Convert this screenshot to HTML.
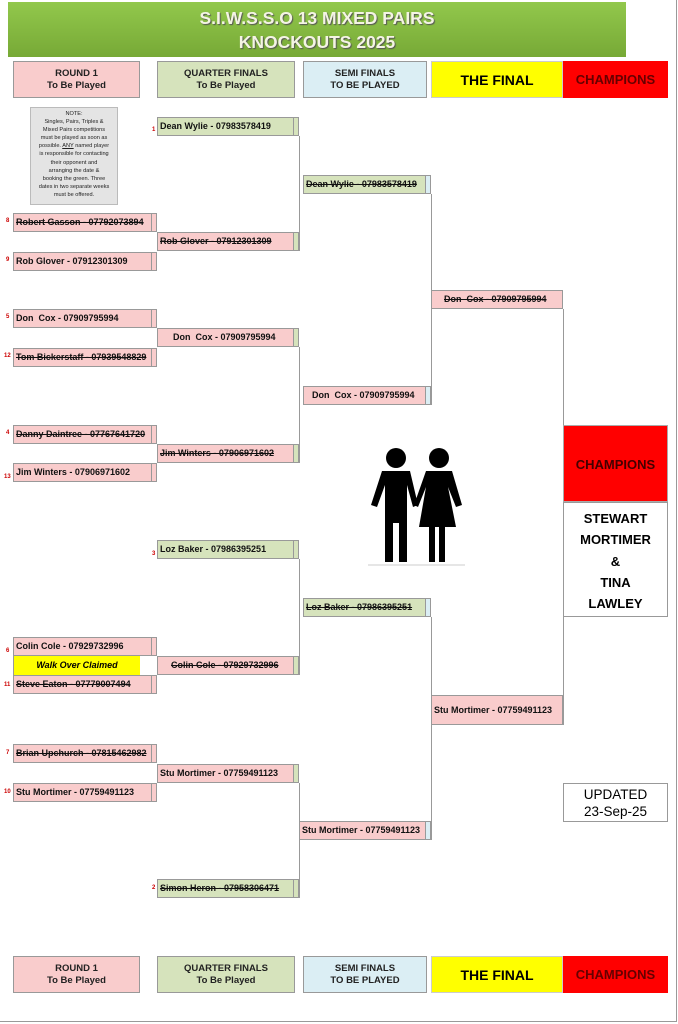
<!DOCTYPE html>
<html><head><meta charset="utf-8"><style>
body{margin:0;width:678px;height:1024px;position:relative;background:#fff;font-family:"Liberation Sans",Arial,sans-serif;overflow:hidden}
div{position:absolute;box-sizing:border-box}
.b{border:1px solid #999;font-weight:bold;font-size:9px;line-height:17px;white-space:nowrap;padding-left:2px;color:#111}
.p{background:#f9cccc}.g{background:#d6e3bc}.s{background:#dbeef4}
.e{border-left:1px solid #999;right:0;top:0;bottom:0;width:5px}
.st{text-decoration:line-through}
.h{border:1px solid #999;font-weight:bold;font-size:9.5px;text-align:center;display:flex;align-items:center;justify-content:center;line-height:12px;color:#222}
.n{font-size:6px;color:#c00;font-weight:bold}
.vl{background:#999;width:1px}
</style></head><body>
<div style="left:8px;top:2px;width:618px;height:55px;background:linear-gradient(#92c84c,#77a936);color:#f4f4e4;text-align:center;font-size:17.5px;font-weight:bold;line-height:24px;padding-top:4px;text-shadow:1px 1px 1px #555">S.I.W.S.S.O 13 MIXED PAIRS<br>KNOCKOUTS 2025</div>

<div class="h" style="left:13px;top:61px;width:127px;height:37px;background:#f9cccc">ROUND 1<br>To Be Played</div>
<div class="h" style="left:157px;top:61px;width:138px;height:37px;background:#d6e3bc">QUARTER FINALS<br>To Be Played</div>
<div class="h" style="left:303px;top:61px;width:124px;height:37px;background:#dbeef4">SEMI FINALS<br>TO BE PLAYED</div>
<div class="h" style="left:431px;top:61px;width:132px;height:37px;background:#ff0;font-size:14px;color:#000;border-color:#ccc">THE FINAL</div>
<div class="h" style="left:563px;top:61px;width:105px;height:37px;background:#f00;font-size:13px;color:#600;border-color:#f00">CHAMPIONS</div>

<div class="h" style="left:13px;top:956px;width:127px;height:37px;background:#f9cccc">ROUND 1<br>To Be Played</div>
<div class="h" style="left:157px;top:956px;width:138px;height:37px;background:#d6e3bc">QUARTER FINALS<br>To Be Played</div>
<div class="h" style="left:303px;top:956px;width:124px;height:37px;background:#dbeef4">SEMI FINALS<br>TO BE PLAYED</div>
<div class="h" style="left:431px;top:956px;width:132px;height:37px;background:#ff0;font-size:14px;color:#000;border-color:#ccc">THE FINAL</div>
<div class="h" style="left:563px;top:956px;width:105px;height:37px;background:#f00;font-size:13px;color:#600;border-color:#f00">CHAMPIONS</div>

<div style="left:30px;top:107px;width:88px;height:98px;background:#e4e4e4;border:1px solid #bbb;font-size:5.6px;line-height:8.1px;text-align:center;padding-top:2px;color:#222">NOTE:<br>Singles, Pairs, Triples &amp;<br>Mixed Pairs competitions<br>must be played as soon as<br>possible. <u>ANY</u> named player<br>is responsible for contacting<br>their opponent and<br>arranging the date &amp;<br>booking the green. Three<br>dates in two separate weeks<br>must be offered.</div>

<!-- Round 1 -->
<div class="b p st" style="left:13px;top:213px;width:144px;height:19px">Robert Gasson - 07792073894<div class="e"></div></div>
<div class="b p" style="left:13px;top:252px;width:144px;height:19px">Rob Glover - 07912301309<div class="e"></div></div>
<div class="b p" style="left:13px;top:309px;width:144px;height:19px">Don&nbsp; Cox - 07909795994<div class="e"></div></div>
<div class="b p st" style="left:13px;top:348px;width:144px;height:19px">Tom Bickerstaff - 07939548829<div class="e"></div></div>
<div class="b p st" style="left:13px;top:425px;width:144px;height:19px">Danny Daintree - 07767641720<div class="e"></div></div>
<div class="b p" style="left:13px;top:463px;width:144px;height:19px">Jim Winters - 07906971602<div class="e"></div></div>
<div class="b p" style="left:13px;top:637px;width:144px;height:19px">Colin Cole - 07929732996<div class="e"></div></div>
<div style="left:13px;top:656px;width:127px;height:19px;background:#ff0;font-size:9px;font-weight:bold;font-style:italic;text-align:center;line-height:19px;border-left:1px solid #999">Walk Over Claimed</div>
<div class="b p st" style="left:13px;top:675px;width:144px;height:19px">Steve Eaton - 07779007494<div class="e"></div></div>
<div class="b p st" style="left:13px;top:744px;width:144px;height:19px">Brian Upchurch - 07815462982<div class="e"></div></div>
<div class="b p" style="left:13px;top:783px;width:144px;height:19px">Stu Mortimer - 07759491123<div class="e"></div></div>
<div class="n" style="left:6px;top:218px">8</div><div class="n" style="left:6px;top:257px">9</div>
<div class="n" style="left:6px;top:314px">5</div><div class="n" style="left:4px;top:353px">12</div>
<div class="n" style="left:6px;top:430px">4</div><div class="n" style="left:4px;top:474px">13</div>
<div class="n" style="left:6px;top:648px">6</div><div class="n" style="left:4px;top:682px">11</div>
<div class="n" style="left:6px;top:750px">7</div><div class="n" style="left:4px;top:789px">10</div>

<!-- QF -->
<div class="b g" style="left:157px;top:117px;width:142px;height:19px">Dean Wylie - 07983578419<div class="e"></div></div>
<div class="b p st" style="left:157px;top:232px;width:142px;height:19px">Rob Glover - 07912301309<div class="e" style="background:#d6e3bc"></div></div>
<div class="b p" style="left:157px;top:328px;width:142px;height:19px;padding-left:15px">Don&nbsp; Cox - 07909795994<div class="e" style="background:#d6e3bc"></div></div>
<div class="b p st" style="left:157px;top:444px;width:142px;height:19px">Jim Winters - 07906971602<div class="e" style="background:#d6e3bc"></div></div>
<div class="b g" style="left:157px;top:540px;width:142px;height:19px">Loz Baker - 07986395251<div class="e"></div></div>
<div class="b p st" style="left:157px;top:656px;width:142px;height:19px;padding-left:13px">Colin Cole - 07929732996<div class="e" style="background:#d6e3bc"></div></div>
<div class="b p" style="left:157px;top:764px;width:142px;height:19px">Stu Mortimer - 07759491123<div class="e" style="background:#d6e3bc"></div></div>
<div class="b g st" style="left:157px;top:879px;width:142px;height:19px">Simon Heron - 07958306471<div class="e"></div></div>
<div class="n" style="left:152px;top:127px">1</div><div class="n" style="left:152px;top:551px">3</div><div class="n" style="left:152px;top:885px">2</div>

<!-- SF -->
<div class="b g st" style="left:303px;top:175px;width:128px;height:19px">Dean Wylie - 07983578419<div class="e" style="background:#dbeef4"></div></div>
<div class="b p" style="left:303px;top:386px;width:128px;height:19px;padding-left:8px">Don&nbsp; Cox - 07909795994<div class="e" style="background:#dbeef4"></div></div>
<div class="b g st" style="left:303px;top:598px;width:128px;height:19px">Loz Baker - 07986395251<div class="e" style="background:#dbeef4"></div></div>
<div class="b p" style="left:299px;top:821px;width:132px;height:19px">Stu Mortimer - 07759491123<div class="e" style="background:#dbeef4"></div></div>

<!-- Final -->
<div class="b p st" style="left:431px;top:290px;width:132px;height:19px;padding-left:12px">Don&nbsp; Cox - 07909795994</div>
<div class="b p" style="left:431px;top:695px;width:132px;height:30px;line-height:28px">Stu Mortimer - 07759491123</div>

<!-- lines -->
<div class="vl" style="left:299px;top:136px;height:115px"></div>
<div class="vl" style="left:299px;top:347px;height:116px"></div>
<div class="vl" style="left:299px;top:559px;height:116px"></div>
<div class="vl" style="left:299px;top:783px;height:115px"></div>
<div class="vl" style="left:431px;top:194px;height:211px"></div>
<div class="vl" style="left:431px;top:617px;height:223px"></div>
<div class="vl" style="left:563px;top:309px;height:416px"></div>

<!-- champions -->
<div style="left:563px;top:425px;width:105px;height:77px;background:#f00;border:1px solid #aaa;font-weight:bold;font-size:13px;color:#400;text-align:center;line-height:77px">CHAMPIONS</div>
<div style="left:563px;top:502px;width:105px;height:115px;border:1px solid #999;font-weight:bold;font-size:13px;text-align:center;line-height:21.3px;padding-top:5px">STEWART<br>MORTIMER<br>&amp;<br>TINA<br>LAWLEY</div>

<div style="left:563px;top:783px;width:105px;height:39px;border:1px solid #999;font-size:13.5px;text-align:center;line-height:17px;padding-top:2px">UPDATED<br>23-Sep-25</div>

<!-- icon -->
<svg style="position:absolute;left:368px;top:445px" width="98" height="121" viewBox="0 0 98 121">
<rect x="0" y="0" width="97" height="120" fill="#fff"/>
<line x1="0" y1="120" x2="97" y2="120" stroke="#ccc"/>
<g fill="#000">
<circle cx="28" cy="13" r="10"/><circle cx="71" cy="13" r="10"/>
<path d="M14 26 H42 L50 60 L45 62 L39 40 V117 H31 V78 H25 V117 H17 V40 L9 62 L3 60 Z"/>
<path d="M58 26 H84 L94 60 L88 62 L80 42 L88 82 H77 V117 H71 V82 H67 V117 H61 V82 H51 L58 42 L50 62 L46 60 Z"/>
</g></svg>

<div style="left:676px;top:0;width:1px;height:1022px;background:#999"></div>
<div style="left:0;top:1021px;width:677px;height:1px;background:#999"></div>
</body></html>
